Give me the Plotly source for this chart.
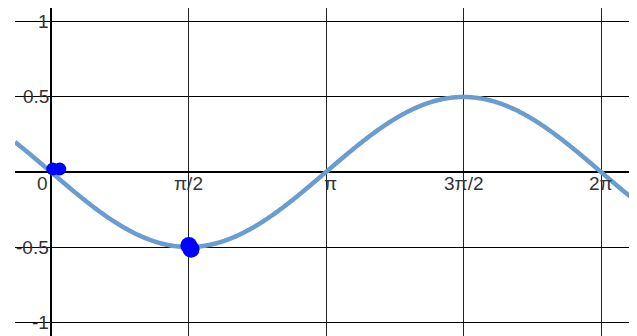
import numpy as np
import plotly.graph_objects as go

# curve y = -0.5 sin(x)
amplitude = -0.5
x_start, x_end = -0.411, 6.694
x_curve = np.linspace(x_start, x_end, 600)
y_curve = amplitude * np.sin(x_curve)

# dragged points (blobs)
pts0_x = [0.02, 0.1]
pts0_y = [0.02, 0.02]
pts1_x = [1.575, 1.6]
pts1_y = [-0.49, -0.515]

x_ticks = [0, np.pi / 2, np.pi, 3 * np.pi / 2, 2 * np.pi]
x_labels = ["0", "π/2", "π", "3π/2", "2π"]
y_ticks = [1, 0.5, -0.5, -1]
y_labels = ["1", "0.5", "-0.5", "-1"]

fig = go.Figure()
fig.add_trace(go.Scatter(x=x_curve, y=y_curve, mode="lines",
                         line=dict(color="#6a9ccf", width=4.5, simplify=False),
                         hoverinfo="skip"))
fig.add_trace(go.Scatter(x=pts0_x, y=pts0_y, mode="markers",
                         marker=dict(color="#0000ff", size=13)))
fig.add_trace(go.Scatter(x=pts1_x, y=pts1_y, mode="markers",
                         marker=dict(color="#0000ff", size=17)))

font = dict(family="Liberation Sans, Arial", size=19, color="#333")
annotations = []
for v, t in zip(y_ticks, y_labels):
    annotations.append(dict(x=0, y=v, xref="x", yref="y", text=t, showarrow=False,
                            xanchor="right", yanchor="middle", xshift=0, font=font))
for v, t in zip(x_ticks, x_labels):
    anchor = "right" if v == 0 else "center"
    shift = -1 if v == 0 else 0
    if t == "π":
        anchor, shift = "left", -4
    annotations.append(dict(x=v, y=0, xref="x", yref="y", text=t, showarrow=False,
                            xanchor=anchor, yanchor="top", xshift=shift, yshift=1, font=font))

# page body has an 8px margin, so the figure is sized to end at the window edge
fig.update_layout(
    width=629, height=328,
    margin=dict(l=7, r=0, t=0, b=0),
    paper_bgcolor="white", plot_bgcolor="white",
    showlegend=False,
    annotations=annotations,
    xaxis=dict(range=[x_start, x_end], tickvals=x_ticks, showticklabels=False,
               showgrid=True, gridcolor="#222", gridwidth=1,
               zeroline=True, zerolinecolor="black", zerolinewidth=2),
    yaxis=dict(range=[-1.093, 1.093], tickvals=y_ticks + [0], showticklabels=False,
               showgrid=True, gridcolor="black", gridwidth=1,
               zeroline=True, zerolinecolor="black", zerolinewidth=2),
)

fig.write_html("out.html")
